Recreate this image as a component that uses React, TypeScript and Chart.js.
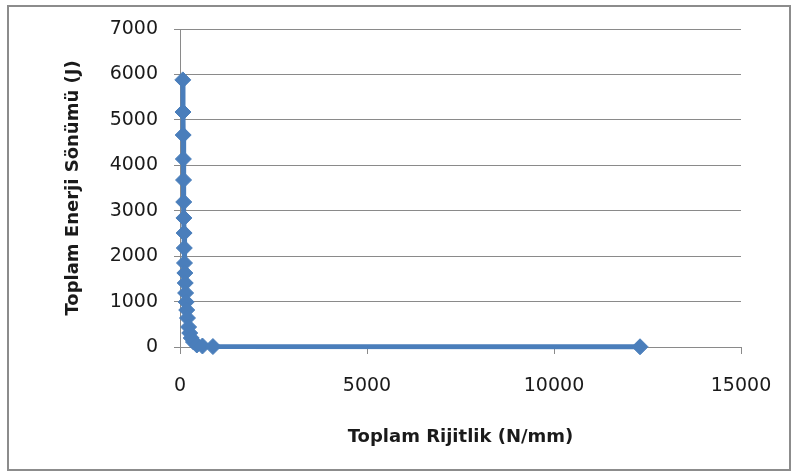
import React, { useEffect, useRef } from "react";
import { Chart, registerables } from "chart.js";

Chart.register(...registerables);

// Toplam rijitlik (N/mm) ve toplam enerji sönümü (J) değerleri
const stiffness: number[] = [
  75, 80, 85, 90, 95, 100, 105, 110, 115, 120, 130, 140, 150, 165, 180, 200,
  230, 260, 300, 360, 450, 600, 880, 12300,
];
const energy: number[] = [
  5880, 5173, 4666, 4138, 3676, 3192, 2840, 2509, 2179, 1849, 1629, 1409, 1189,
  990, 814, 638, 440, 308, 198, 110, 44, 22, 10, 5,
];

const xTicks: number[] = [0, 5000, 10000, 15000];
const yTicks: number[] = [0, 1000, 2000, 3000, 4000, 5000, 6000, 7000];

const xTitle = "Toplam Rijitlik (N/mm)";
const yTitle = "Toplam Enerji Sönümü (J)";

const BLUE = "#4A7EBB";
const GRID = "#8a8a8a";
const TEXT = "#1a1a1a";

const plain = (v: number | string) => String(v);

export default function App() {
  const canvasRef = useRef<HTMLCanvasElement | null>(null);

  useEffect(() => {
    const canvas = canvasRef.current;
    if (!canvas) return;

    const points = stiffness.map((x, i) => ({ x, y: energy[i] }));

    const chart = new Chart(canvas, {
      type: "scatter",
      data: {
        datasets: [
          {
            data: points,
            showLine: true,
            clip: false,
            borderColor: BLUE,
            backgroundColor: BLUE,
            borderWidth: 5,
            pointStyle: "rectRot",
            pointRadius: 8,
            pointHoverRadius: 8,
            pointBorderWidth: 1,
            pointBorderColor: BLUE,
            pointBackgroundColor: BLUE,
          },
        ],
      },
      options: {
        animation: false,
        responsive: false,
        devicePixelRatio: 1,
        layout: { padding: { left: 63, right: 57, top: 29, bottom: 28 } },
        plugins: {
          legend: { display: false },
          tooltip: { enabled: false },
        },
        scales: {
          x: {
            type: "linear",
            min: xTicks[0],
            max: xTicks[xTicks.length - 1],
            afterBuildTicks: (scale: any) => {
              scale.ticks = xTicks.map((v) => ({ value: v }));
            },
            afterFit: (scale: any) => {
              scale.height = 101;
            },
            grid: {
              drawOnChartArea: false,
              drawTicks: true,
              tickLength: 7,
              color: GRID,
            },
            border: { display: true, color: GRID, width: 1 },
            ticks: {
              padding: 21,
              color: TEXT,
              callback: plain,
              font: { family: "DejaVu Sans", size: 19 },
            },
            title: {
              display: true,
              text: xTitle,
              color: TEXT,
              padding: 0,
              font: { family: "DejaVu Sans", size: 18, weight: "bold" },
            },
          },
          y: {
            type: "linear",
            min: yTicks[0],
            max: yTicks[yTicks.length - 1],
            afterBuildTicks: (scale: any) => {
              scale.ticks = yTicks.map((v) => ({ value: v }));
            },
            afterFit: (scale: any) => {
              scale.width = 117;
            },
            grid: {
              drawOnChartArea: true,
              drawTicks: true,
              tickLength: 6,
              color: GRID,
            },
            border: { display: true, color: GRID, width: 1 },
            ticks: {
              padding: 16,
              color: TEXT,
              callback: plain,
              font: { family: "DejaVu Sans", size: 19 },
            },
            title: {
              display: true,
              text: yTitle,
              color: TEXT,
              padding: 0,
              font: { family: "DejaVu Sans", size: 18, weight: "bold" },
            },
          },
        },
      },
    });

    return () => chart.destroy();
  }, []);

  return (
    <div
      style={{
        position: "absolute",
        left: 0,
        top: 0,
        width: 798,
        height: 476,
        background: "#ffffff",
      }}
    >
      <div
        style={{
          position: "absolute",
          left: 7,
          top: 5,
          width: 780,
          height: 462,
          border: "2px solid #8c8c8c",
        }}
      />
      <canvas
        ref={canvasRef}
        width={798}
        height={476}
        style={{ position: "absolute", left: 0, top: 0, width: 798, height: 476 }}
      />
    </div>
  );
}
